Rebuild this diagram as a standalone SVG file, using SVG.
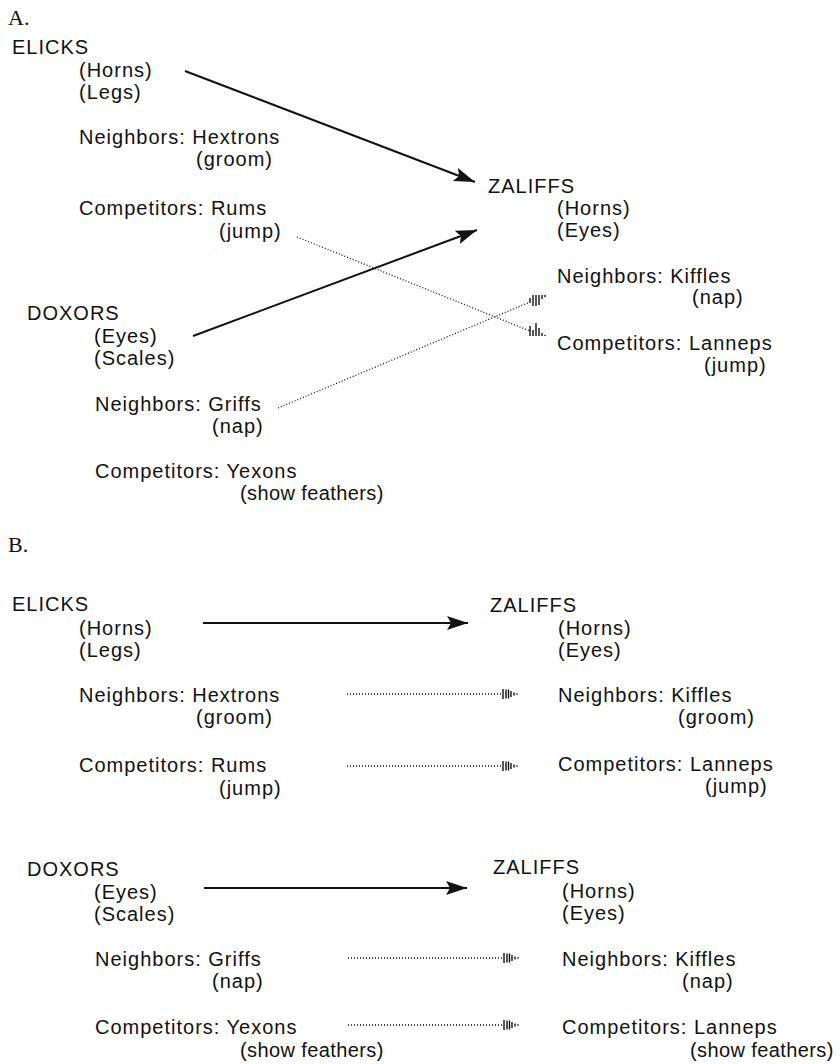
<svg xmlns="http://www.w3.org/2000/svg" width="840" height="1064" viewBox="0 0 840 1064">
<style>
text{font-family:"Liberation Sans",Arial,sans-serif;font-size:20px;letter-spacing:1px;fill:#111}
text.sec{font-family:"Liberation Serif","Times New Roman",serif;font-size:22px;letter-spacing:0}
text.nar{letter-spacing:0.4px}
.solid{stroke:#111;stroke-width:2;fill:none}
.dot{stroke:#111;stroke-width:1.3;stroke-dasharray:1 2;fill:none}
.tk{stroke:#111;stroke-width:1.4;fill:none}
</style>
<defs>
<marker id="ah" markerUnits="userSpaceOnUse" markerWidth="22" markerHeight="16" refX="21" refY="8" orient="auto">
<path d="M0,1 L21,8 L0,15 L4,8 z" fill="#111"/>
</marker>
<g id="feather">
<path class="tk" d="M0,-5V5 M3,-4.5V4.5 M5.5,-4.5V4.5 M8,-3V3 M11,-1.5V1.5 M14,-0.7V0.7"/>
</g>
</defs>
<g id="labels">
<text class="sec" x="8" y="25">A.</text>
<text class="sec" x="8" y="552">B.</text>
</g>
<g id="a-elicks">
<text x="12" y="54">ELICKS</text>
<text x="79" y="77">(Horns)</text>
<text x="79" y="99">(Legs)</text>
<text x="79" y="144">Neighbors: Hextrons</text>
<text x="196" y="166">(groom)</text>
<text x="79" y="215">Competitors: Rums</text>
<text x="219" y="238">(jump)</text>
</g>
<g id="a-doxors">
<text x="27" y="320">DOXORS</text>
<text x="94" y="343">(Eyes)</text>
<text x="94" y="365">(Scales)</text>
<text x="95" y="411">Neighbors: Griffs</text>
<text x="212" y="433">(nap)</text>
<text x="95" y="478">Competitors: Yexons</text>
<text class="nar" x="240" y="500">(show feathers)</text>
</g>
<g id="a-zaliffs">
<text x="488" y="193">ZALIFFS</text>
<text x="557" y="215">(Horns)</text>
<text x="557" y="237">(Eyes)</text>
<text x="557" y="283">Neighbors: Kiffles</text>
<text x="692" y="304">(nap)</text>
<text x="557" y="350">Competitors: Lanneps</text>
<text x="704" y="372">(jump)</text>
</g>
<g id="b-elicks">
<text x="12" y="611">ELICKS</text>
<text x="79" y="635">(Horns)</text>
<text x="79" y="657">(Legs)</text>
<text x="79" y="702">Neighbors: Hextrons</text>
<text x="196" y="724">(groom)</text>
<text x="79" y="772">Competitors: Rums</text>
<text x="219" y="795">(jump)</text>
</g>
<g id="b-zaliffs-1">
<text x="490" y="612">ZALIFFS</text>
<text x="558" y="635">(Horns)</text>
<text x="558" y="657">(Eyes)</text>
<text x="558" y="702">Neighbors: Kiffles</text>
<text x="678" y="724">(groom)</text>
<text x="558" y="771">Competitors: Lanneps</text>
<text x="705" y="793">(jump)</text>
</g>
<g id="b-doxors">
<text x="27" y="876">DOXORS</text>
<text x="94" y="899">(Eyes)</text>
<text x="94" y="921">(Scales)</text>
<text x="95" y="966">Neighbors: Griffs</text>
<text x="212" y="988">(nap)</text>
<text x="95" y="1034">Competitors: Yexons</text>
<text class="nar" x="240" y="1057">(show feathers)</text>
</g>
<g id="b-zaliffs-2">
<text x="493" y="874">ZALIFFS</text>
<text x="562" y="898">(Horns)</text>
<text x="562" y="920">(Eyes)</text>
<text x="562" y="966">Neighbors: Kiffles</text>
<text x="682" y="988">(nap)</text>
<text x="562" y="1034">Competitors: Lanneps</text>
<text class="nar" x="690" y="1057">(show feathers)</text>
</g>
<g id="connectors">
<line class="solid" x1="185" y1="71" x2="475" y2="182" marker-end="url(#ah)"/>
<line class="solid" x1="193" y1="336" x2="477" y2="230" marker-end="url(#ah)"/>
<line class="dot" x1="297" y1="237" x2="530" y2="331"/>
<line class="dot" x1="278" y1="408" x2="530" y2="302"/>
<path class="tk" d="M530,298V303 M533,295V306 M536,295V306 M539,295V305 M542,295V299 M545,295V297"/>
<path class="tk" d="M530,326V336 M533,330V336 M536,323V336 M539,328V336 M542,333V336 M545,335V336"/>
<line class="solid" x1="203" y1="623" x2="468" y2="623" marker-end="url(#ah)"/>
<line class="dot" x1="347" y1="694" x2="502" y2="694"/>
<use href="#feather" x="503" y="694"/>
<line class="dot" x1="347" y1="766" x2="502" y2="766"/>
<use href="#feather" x="503" y="766"/>
<line class="solid" x1="204" y1="888" x2="467" y2="888" marker-end="url(#ah)"/>
<line class="dot" x1="348" y1="958" x2="503" y2="958"/>
<use href="#feather" x="504" y="958"/>
<line class="dot" x1="348" y1="1025" x2="503" y2="1025"/>
<use href="#feather" x="504" y="1025"/>
</g>
</svg>
